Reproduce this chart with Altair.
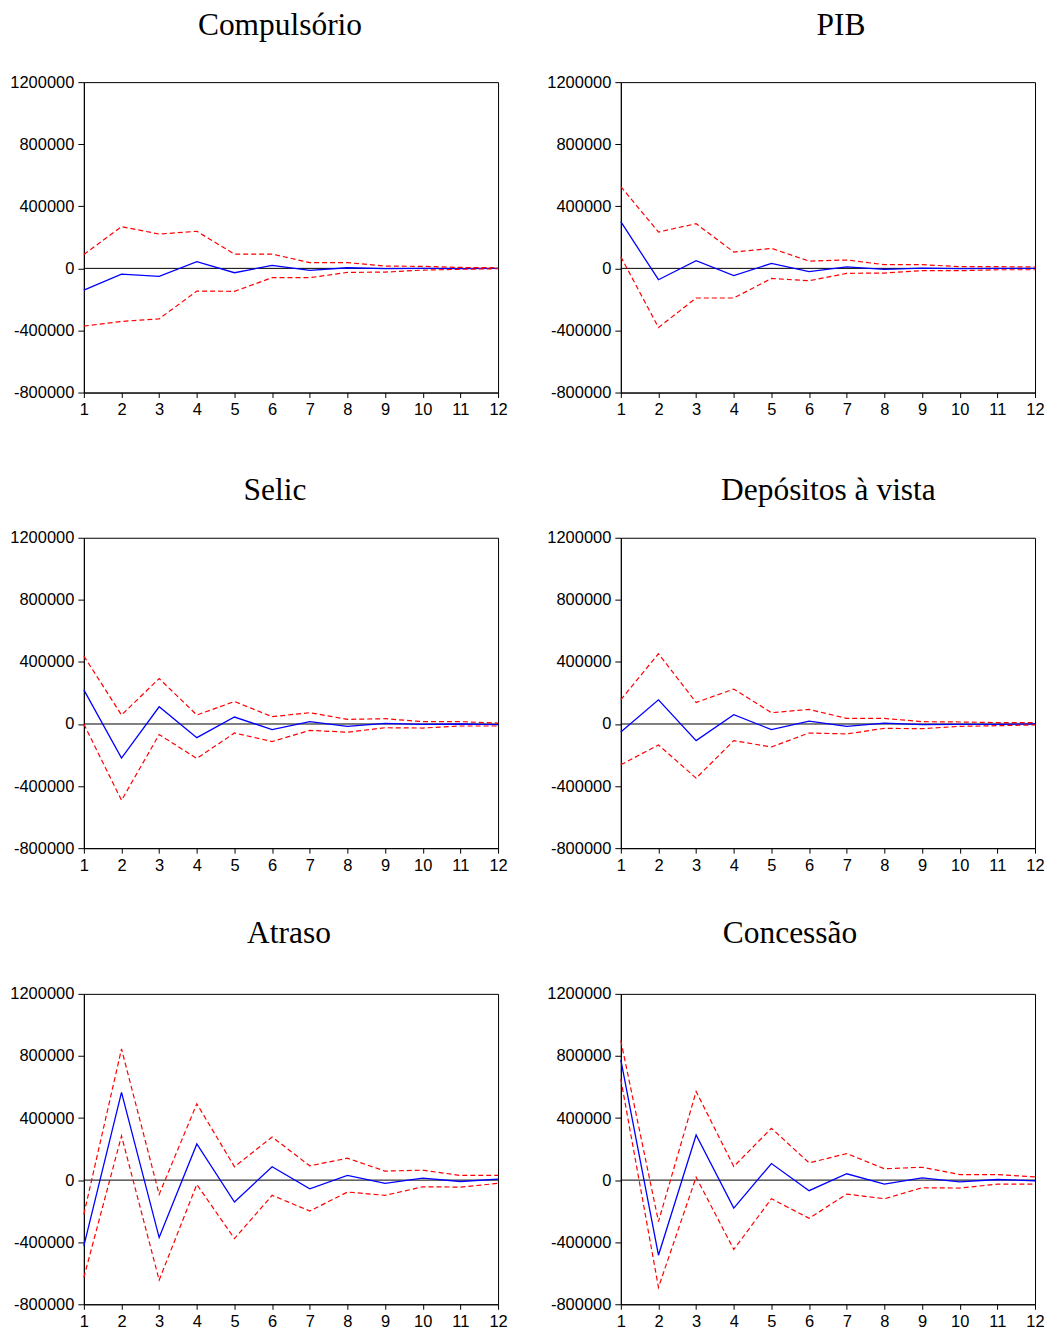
import altair as alt
import pandas as pd

steps = list(range(1, 13))
y_ticks = [-800000, -400000, 0, 400000, 800000, 1200000]

titles = ["Compulsório", "PIB", "Selic", "Depósitos à vista", "Atraso", "Concessão"]

comp_resp = [-140000, -37000, -52000, 43000, -28000, 19000, -13000, 4000, -2000, 0, -2000, 0]
comp_upper = [90000, 269000, 221000, 239000, 92000, 92000, 37000, 37000, 15000, 13000, 6000, 4000]
comp_lower = [-372000, -342000, -325000, -146000, -148000, -60000, -60000, -26000, -24000, -11000, -6000, -2000]

pib_resp = [301000, -73000, 49000, -47000, 32000, -21000, 9000, -6000, 2000, -2000, 0, 0]
pib_upper = [527000, 234000, 288000, 105000, 129000, 47000, 54000, 24000, 24000, 11000, 11000, 9000]
pib_lower = [75000, -381000, -191000, -191000, -65000, -80000, -32000, -30000, -15000, -15000, -9000, -9000]

selic_resp = [220000, -220000, 111000, -88000, 45000, -36000, 15000, -15000, 4000, -2000, 0, -4000]
selic_upper = [438000, 58000, 293000, 58000, 145000, 47000, 73000, 30000, 34000, 15000, 15000, 6000]
selic_lower = [0, -492000, -68000, -222000, -58000, -113000, -41000, -53000, -24000, -26000, -13000, -13000]

dep_resp = [-51000, 156000, -107000, 60000, -36000, 19000, -15000, 6000, -4000, -2000, -2000, 0]
dep_upper = [156000, 453000, 139000, 225000, 73000, 94000, 36000, 36000, 15000, 13000, 9000, 9000]
dep_lower = [-263000, -135000, -349000, -107000, -148000, -58000, -64000, -28000, -30000, -15000, -11000, -6000]

atr_resp = [-424000, 565000, -370000, 233000, -141000, 86000, -56000, 30000, -21000, 13000, -9000, 6000]
atr_upper = [-220000, 845000, -92000, 492000, 86000, 278000, 92000, 141000, 58000, 64000, 30000, 30000]
atr_lower = [-627000, 285000, -644000, -28000, -377000, -98000, -199000, -77000, -98000, -43000, -45000, -21000]

con_resp = [775000, -484000, 291000, -180000, 107000, -68000, 41000, -26000, 15000, -11000, 4000, -4000]
con_upper = [899000, -267000, 571000, 88000, 334000, 111000, 171000, 73000, 83000, 36000, 36000, 21000]
con_lower = [650000, -691000, 19000, -447000, -120000, -246000, -90000, -120000, -49000, -51000, -26000, -26000]

W = 415
H = 311

# (title, responses, upper band, lower band, title shift from centre, title baseline gap above plot)
panels = [
    (titles[0], comp_resp, comp_upper, comp_lower, -11, 47),
    (titles[1], pib_resp, pib_upper, pib_lower, 13, 47),
    (titles[2], selic_resp, selic_upper, selic_lower, -16, 38),
    (titles[3], dep_resp, dep_upper, dep_lower, 0.5, 38),
    (titles[4], atr_resp, atr_upper, atr_lower, -2, 51),
    (titles[5], con_resp, con_upper, con_lower, -38, 51),
]


def make_panel(title, resp, upper, lower, dx, gap):
    df = pd.DataFrame({
        "step": steps * 3,
        "value": resp + upper + lower,
        "series": ["resp"] * 12 + ["upper"] * 12 + ["lower"] * 12,
    })
    xenc = alt.X(
        "step:Q",
        scale=alt.Scale(domain=[1, 12], nice=False, zero=False),
        axis=alt.Axis(values=steps, title=None, grid=False, labelFlush=False,
                      tickSize=5, labelPadding=4.5, format="d"),
    )
    yenc = alt.Y(
        "value:Q",
        scale=alt.Scale(domain=[-800000, 1200000], nice=False),
        axis=alt.Axis(values=y_ticks, title=None, grid=False, tickSize=6,
                      labelPadding=4, labelExpr="'' + datum.value"),
    )
    zero = alt.Chart(pd.DataFrame({"value": [0]})).mark_rule(
        color="black", strokeWidth=1
    ).encode(y="value:Q")
    blue = alt.Chart(df[df.series == "resp"]).mark_line(
        color="#0000FF", strokeWidth=1.3
    ).encode(x=xenc, y=yenc)
    red = alt.Chart(df[df.series != "resp"]).mark_line(
        color="#FF0000", strokeWidth=1.2, strokeDash=[5, 3]
    ).encode(x=xenc, y=yenc, detail="series:N")
    head = alt.Chart(pd.DataFrame({"t": [title]})).mark_text(
        font="Liberation Serif", fontSize=31.5, baseline="alphabetic",
        align="center", color="black",
    ).encode(
        text="t:N",
        x=alt.value(W / 2 + dx),
        y=alt.value(-gap),
    )
    return alt.layer(zero, blue, red, head).properties(width=W, height=H)


charts = [make_panel(*p) for p in panels]
row1 = alt.hconcat(charts[0], charts[1], spacing=38)
row2 = alt.hconcat(charts[2], charts[3], spacing=38)
row3 = alt.hconcat(charts[4], charts[5], spacing=38)

chart = alt.vconcat(
    row1,
    alt.vconcat(row2, row3, spacing=42),
    spacing=54.5,
).properties(
    padding={"left": 1, "top": 0, "right": 0, "bottom": 0}
).configure_view(
    stroke="black", strokeWidth=1
).configure_axis(
    domainColor="black", tickColor="black", labelColor="black",
    labelFont="Liberation Sans", labelFontSize=16.5, domainWidth=1, tickWidth=1,
)

chart.save("out.html", embed_options={"renderer": "svg", "actions": False})
